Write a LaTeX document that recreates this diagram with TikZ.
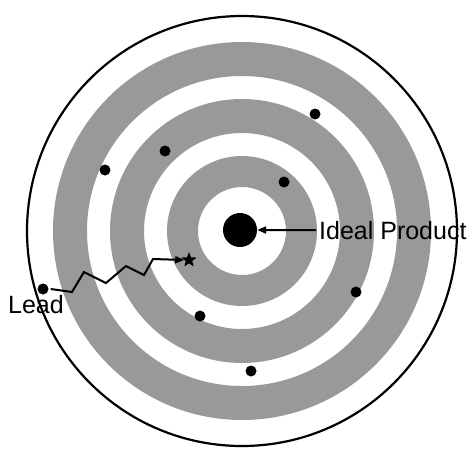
\documentclass[tikz,border=0pt]{standalone}
\usepackage{fontspec}
\setmainfont{Liberation Sans}
\usetikzlibrary{arrows.meta,shapes.geometric}
\begin{document}
\begin{tikzpicture}[x=1pt,y=-1pt,
  band/.style={fill=black!40, even odd rule},
  sdot/.style={circle, fill=black, inner sep=0pt, minimum size=11pt},
  lbl/.style={inner sep=0pt, font=\fontsize{25}{30}\selectfont},
  arr/.style={line width=2pt, line join=miter, -{Triangle[length=9pt,width=7pt]}}]
\useasboundingbox (0,0) rectangle (468,448);
\coordinate (c) at (242,231);
% shaded bands
\fill[band] (c) circle (189pt) (c) circle (155pt);
\fill[band] (c) circle (132pt) (c) circle (98pt);
\fill[band] (c) circle (75pt) (c) circle (44pt);
% outer circle
\draw[line width=2.2pt] (c) circle (215pt);
% ideal product
\node[circle, fill=black, inner sep=0pt, minimum size=34pt] (bigdot) at (240,230) {};
\node[lbl, anchor=base west] (ideal) at (319,239) {Ideal Product};
\draw[arr] ([xshift=-3pt]ideal.west) -- (bigdot.east);
% products
\node[sdot] (p1) at (315,114) {};
\node[sdot] (p2) at (165,151) {};
\node[sdot] (p3) at (105,170) {};
\node[sdot] (p4) at (284,182) {};
\node[sdot] (p5) at (356,292) {};
\node[sdot] (p6) at (200,316) {};
\node[sdot] (p7) at (251,371) {};
\node[sdot] (lead) at (43,289) {};
\node[lbl, anchor=base west] (leadtxt) at (8,313) {Lead};
% star
\node[star, star points=5, star point ratio=2.4, fill=black, inner sep=0pt, minimum size=16pt] (star) at (189,260) {};
% lead path
\coordinate (z1) at (72,292);
\coordinate (z2) at (84,272);
\coordinate (z3) at (106,283);
\coordinate (z4) at (126,266);
\coordinate (z5) at (144,275);
\coordinate (z6) at (153,259);
\draw[arr] ([xshift=2pt]lead.east) -- (z1) -- (z2) -- (z3) -- (z4) -- (z5) -- (z6) -- (star.west);
\end{tikzpicture}
\end{document}
